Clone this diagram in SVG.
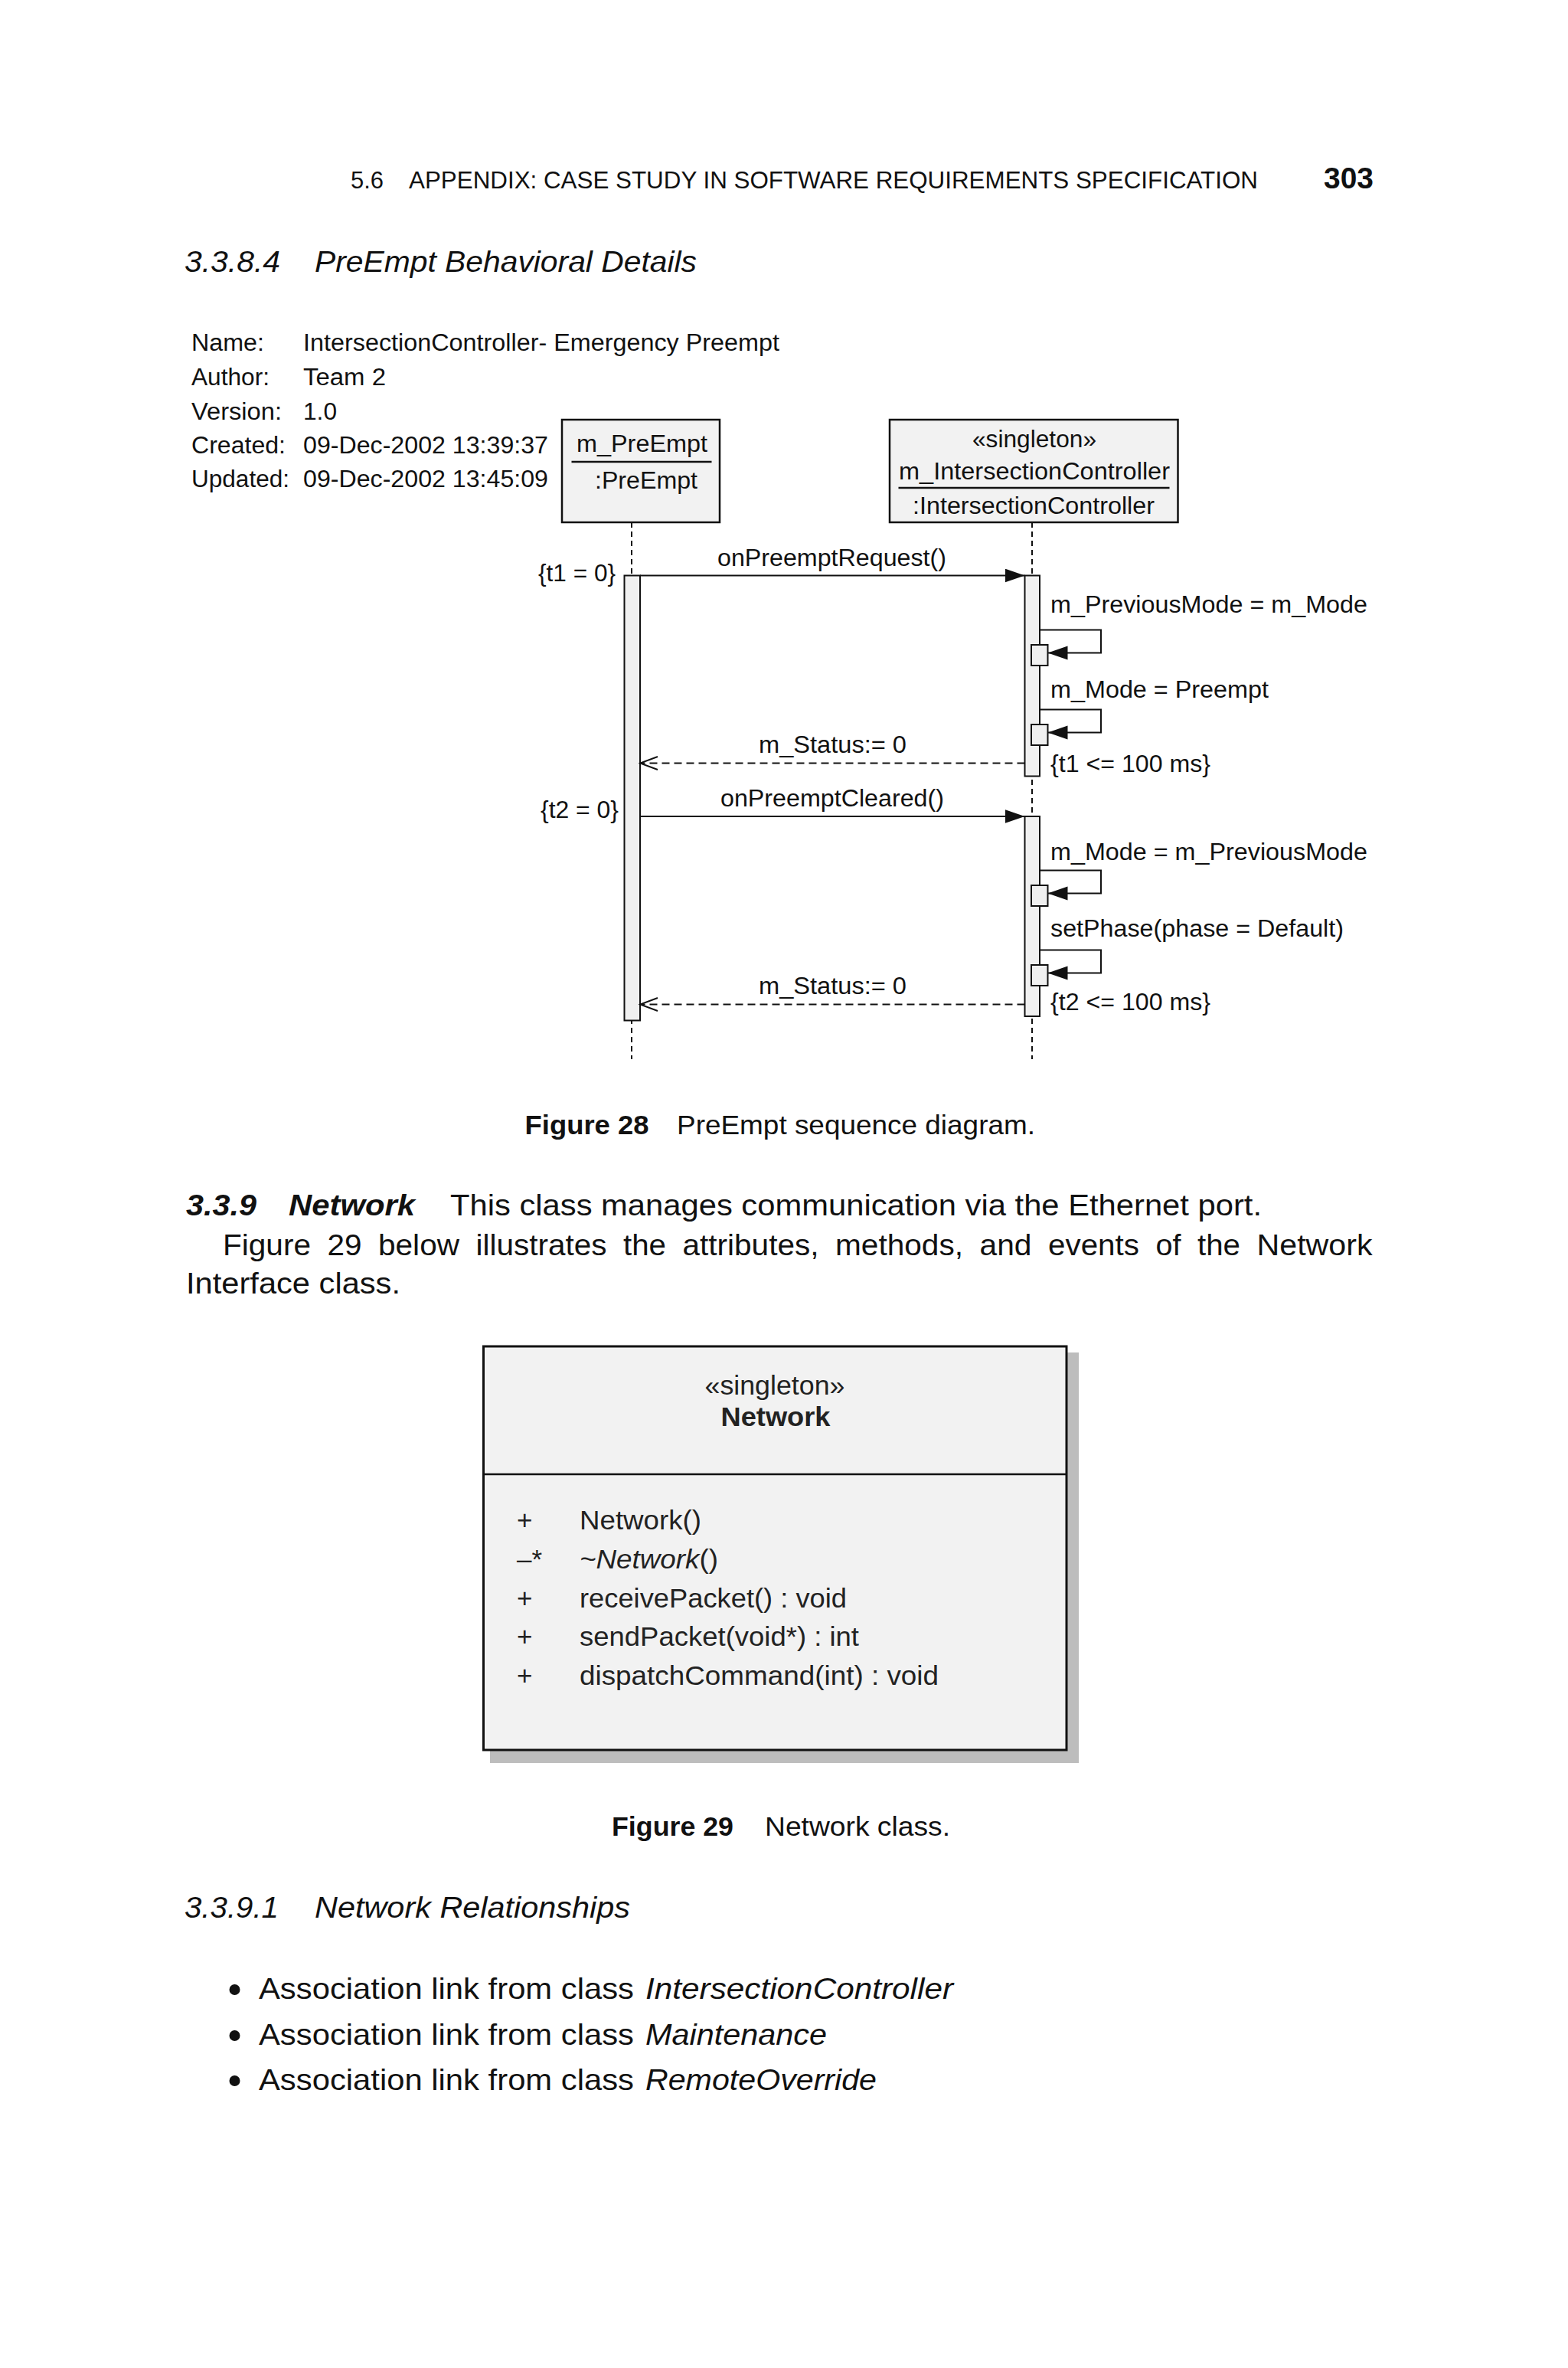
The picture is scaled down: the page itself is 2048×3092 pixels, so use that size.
<svg xmlns="http://www.w3.org/2000/svg" width="2048" height="3092" viewBox="0 0 2048 3092">
<style>
text{font-family:"Liberation Sans",Arial,Helvetica,sans-serif;fill:#111}
.hd{font-size:31px}
.pg{font-size:39px;font-weight:bold}
.h{font-size:39px;font-style:italic}
.b{font-size:39px}
.bi{font-weight:bold;font-style:italic}
.bo{font-weight:bold}
.i{font-style:italic}
.m{font-size:31px}
.d{font-size:31px}
.cap{font-size:35px}
.cb{font-size:35px;fill:#222}
.box{fill:#f2f2f2;stroke:#111;stroke-width:2.5}
.act{fill:#f0f0f0;stroke:#111;stroke-width:2}
.life{stroke:#111;stroke-width:2;stroke-dasharray:7 5;fill:none}
.msg{stroke:#111;stroke-width:2;fill:none}
.ret{stroke:#111;stroke-width:2;fill:none;stroke-dasharray:10 6}
.ul{stroke:#111;stroke-width:2.5}
</style>
<defs>
<marker id="fa" markerUnits="userSpaceOnUse" markerWidth="27" markerHeight="19" refX="26" refY="9" orient="auto">
<path d="M0,0 L26,9 L0,18 Z" fill="#111" stroke="none"/>
</marker>
<marker id="oa" markerUnits="userSpaceOnUse" markerWidth="26" markerHeight="20" refX="24" refY="9.5" orient="auto">
<path d="M1,1 L24,9.5 L1,18" fill="none" stroke="#111" stroke-width="2" stroke-dasharray="none"/>
</marker>
</defs>

<g id="page-header">
<text class="hd" x="458" y="246">5.6</text>
<text class="hd" x="534" y="246" textLength="1109" lengthAdjust="spacingAndGlyphs">APPENDIX: CASE STUDY IN SOFTWARE REQUIREMENTS SPECIFICATION</text>
<text class="pg" x="1729" y="246" textLength="65" lengthAdjust="spacingAndGlyphs">303</text>
</g>

<g id="heading-3384">
<text class="h" x="241" y="355" textLength="125" lengthAdjust="spacingAndGlyphs">3.3.8.4</text>
<text class="h" x="411" y="355" textLength="499" lengthAdjust="spacingAndGlyphs">PreEmpt Behavioral Details</text>
</g>

<g id="metadata">
<text class="m" x="250" y="458" textLength="95" lengthAdjust="spacingAndGlyphs">Name:</text>
<text class="m" x="396" y="458" textLength="622" lengthAdjust="spacingAndGlyphs">IntersectionController- Emergency Preempt</text>
<text class="m" x="250" y="503" textLength="102" lengthAdjust="spacingAndGlyphs">Author:</text>
<text class="m" x="396" y="503" textLength="108" lengthAdjust="spacingAndGlyphs">Team 2</text>
<text class="m" x="250" y="548" textLength="118" lengthAdjust="spacingAndGlyphs">Version:</text>
<text class="m" x="396" y="548" textLength="44" lengthAdjust="spacingAndGlyphs">1.0</text>
<text class="m" x="250" y="592" textLength="123" lengthAdjust="spacingAndGlyphs">Created:</text>
<text class="m" x="396" y="592" textLength="320" lengthAdjust="spacingAndGlyphs">09-Dec-2002 13:39:37</text>
<text class="m" x="250" y="636" textLength="128" lengthAdjust="spacingAndGlyphs">Updated:</text>
<text class="m" x="396" y="636" textLength="320" lengthAdjust="spacingAndGlyphs">09-Dec-2002 13:45:09</text>
</g>

<g id="lifelines">
<path class="life" d="M825,682 V1383"/>
<path class="life" d="M1348,682 V1383"/>
</g>

<g id="node-preempt">
<rect class="box" x="734" y="548" width="206" height="134"/>
<text class="d" x="753" y="590" textLength="171" lengthAdjust="spacingAndGlyphs">m_PreEmpt</text>
<line class="ul" x1="746.5" y1="603" x2="929.5" y2="603"/>
<text class="d" x="777" y="638" textLength="134" lengthAdjust="spacingAndGlyphs">:PreEmpt</text>
</g>

<g id="node-intersectioncontroller">
<rect class="box" x="1162" y="548" width="376.5" height="134"/>
<text class="d" x="1270" y="584" textLength="162" lengthAdjust="spacingAndGlyphs">«singleton»</text>
<text class="d" x="1174" y="626" textLength="354" lengthAdjust="spacingAndGlyphs">m_IntersectionController</text>
<line class="ul" x1="1173.5" y1="637" x2="1527.5" y2="637"/>
<text class="d" x="1192" y="671" textLength="316" lengthAdjust="spacingAndGlyphs">:IntersectionController</text>
</g>

<g id="activations">
<rect class="act" x="815.5" y="751.5" width="20.5" height="581"/>
<rect class="act" x="1338.5" y="751.5" width="19.5" height="262"/>
<rect class="act" x="1338.5" y="1066" width="19.5" height="261"/>
<rect class="act" x="1347" y="842" width="21.5" height="27"/>
<rect class="act" x="1347" y="946" width="21.5" height="27"/>
<rect class="act" x="1347" y="1156" width="21.5" height="27"/>
<rect class="act" x="1347" y="1260" width="21.5" height="27"/>
</g>

<g id="connectors">
<path class="msg" d="M836,751.5 H1338.5" marker-end="url(#fa)"/>
<path class="msg" d="M1358,822.5 H1438 V852.5 H1368.5" marker-end="url(#fa)"/>
<path class="msg" d="M1358,926.5 H1438 V956.5 H1368.5" marker-end="url(#fa)"/>
<path class="ret" d="M1338.5,996.5 H836" marker-end="url(#oa)"/>
<path class="msg" d="M836,1066 H1338.5" marker-end="url(#fa)"/>
<path class="msg" d="M1358,1136.5 H1438 V1166.5 H1368.5" marker-end="url(#fa)"/>
<path class="msg" d="M1358,1240.5 H1438 V1270.5 H1368.5" marker-end="url(#fa)"/>
<path class="ret" d="M1338.5,1311.5 H836" marker-end="url(#oa)"/>
</g>

<g id="message-labels">
<text class="d" x="703" y="759" textLength="101" lengthAdjust="spacingAndGlyphs">{t1 = 0}</text>
<text class="d" x="937" y="739" textLength="299" lengthAdjust="spacingAndGlyphs">onPreemptRequest()</text>
<text class="d" x="1372" y="800" textLength="414" lengthAdjust="spacingAndGlyphs">m_PreviousMode = m_Mode</text>
<text class="d" x="1372" y="911" textLength="285" lengthAdjust="spacingAndGlyphs">m_Mode = Preempt</text>
<text class="d" x="991" y="983" textLength="193" lengthAdjust="spacingAndGlyphs">m_Status:= 0</text>
<text class="d" x="1372" y="1008" textLength="209" lengthAdjust="spacingAndGlyphs">{t1 &lt;= 100 ms}</text>
<text class="d" x="941" y="1053" textLength="292" lengthAdjust="spacingAndGlyphs">onPreemptCleared()</text>
<text class="d" x="706" y="1068" textLength="102" lengthAdjust="spacingAndGlyphs">{t2 = 0}</text>
<text class="d" x="1372" y="1123" textLength="414" lengthAdjust="spacingAndGlyphs">m_Mode = m_PreviousMode</text>
<text class="d" x="1372" y="1223" textLength="383" lengthAdjust="spacingAndGlyphs">setPhase(phase = Default)</text>
<text class="d" x="991" y="1298" textLength="193" lengthAdjust="spacingAndGlyphs">m_Status:= 0</text>
<text class="d" x="1372" y="1319" textLength="209" lengthAdjust="spacingAndGlyphs">{t2 &lt;= 100 ms}</text>
</g>

<g id="caption-28">
<text class="cap bo" x="685.5" y="1481" textLength="162" lengthAdjust="spacingAndGlyphs">Figure 28</text>
<text class="cap" x="884" y="1481" textLength="468" lengthAdjust="spacingAndGlyphs">PreEmpt sequence diagram.</text>
</g>

<g id="section-339">
<text class="b bi" x="243" y="1587" textLength="92" lengthAdjust="spacingAndGlyphs">3.3.9</text>
<text class="b bi" x="377" y="1587" textLength="165" lengthAdjust="spacingAndGlyphs">Network</text>
<text class="b" x="588" y="1587" textLength="1060" lengthAdjust="spacingAndGlyphs">This class manages communication via the Ethernet port.</text>
<text class="b" y="1638.5">
<tspan x="291" textLength="115" lengthAdjust="spacingAndGlyphs">Figure</tspan>
<tspan x="427.5" textLength="45" lengthAdjust="spacingAndGlyphs">29</tspan>
<tspan x="494" textLength="106" lengthAdjust="spacingAndGlyphs">below</tspan>
<tspan x="621.5" textLength="171" lengthAdjust="spacingAndGlyphs">illustrates</tspan>
<tspan x="814" textLength="56" lengthAdjust="spacingAndGlyphs">the</tspan>
<tspan x="891.5" textLength="178" lengthAdjust="spacingAndGlyphs">attributes,</tspan>
<tspan x="1091" textLength="167" lengthAdjust="spacingAndGlyphs">methods,</tspan>
<tspan x="1279.5" textLength="68" lengthAdjust="spacingAndGlyphs">and</tspan>
<tspan x="1369" textLength="119" lengthAdjust="spacingAndGlyphs">events</tspan>
<tspan x="1509.5" textLength="33" lengthAdjust="spacingAndGlyphs">of</tspan>
<tspan x="1564" textLength="56" lengthAdjust="spacingAndGlyphs">the</tspan>
<tspan x="1641.5" textLength="151" lengthAdjust="spacingAndGlyphs">Network</tspan>
</text>
<text class="b" x="243" y="1688.5" textLength="280" lengthAdjust="spacingAndGlyphs">Interface class.</text>
</g>

<g id="class-network">
<rect x="640" y="1766" width="769" height="536" fill="#bdbdbd"/>
<rect x="631.5" y="1758" width="761.5" height="527" fill="#f2f2f2" stroke="#111" stroke-width="3"/>
<text class="cb" x="920.5" y="1821" textLength="183" lengthAdjust="spacingAndGlyphs">«singleton»</text>
<text class="cb bo" x="941.5" y="1862" textLength="143" lengthAdjust="spacingAndGlyphs">Network</text>
<line x1="631.5" y1="1925" x2="1393" y2="1925" stroke="#111" stroke-width="2.5"/>
<text class="cb" x="675" y="1997">+</text>
<text class="cb" x="757" y="1997" textLength="159" lengthAdjust="spacingAndGlyphs">Network()</text>
<text class="cb" x="675" y="2048">–*</text>
<text class="cb" x="757" y="2048" textLength="181" lengthAdjust="spacingAndGlyphs"><tspan class="i">~Network</tspan>()</text>
<text class="cb" x="675" y="2098.5">+</text>
<text class="cb" x="757" y="2098.5" textLength="349" lengthAdjust="spacingAndGlyphs">receivePacket() : void</text>
<text class="cb" x="675" y="2149">+</text>
<text class="cb" x="757" y="2149" textLength="365" lengthAdjust="spacingAndGlyphs">sendPacket(void*) : int</text>
<text class="cb" x="675" y="2200">+</text>
<text class="cb" x="757" y="2200" textLength="469" lengthAdjust="spacingAndGlyphs">dispatchCommand(int) : void</text>
</g>

<g id="caption-29">
<text class="cap bo" x="799" y="2397" textLength="159" lengthAdjust="spacingAndGlyphs">Figure 29</text>
<text class="cap" x="999" y="2397" textLength="242" lengthAdjust="spacingAndGlyphs">Network class.</text>
</g>

<g id="heading-3391">
<text class="h" x="241" y="2504" textLength="123" lengthAdjust="spacingAndGlyphs">3.3.9.1</text>
<text class="h" x="411" y="2504" textLength="412" lengthAdjust="spacingAndGlyphs">Network Relationships</text>
</g>

<g id="relationships">
<circle cx="306.5" cy="2598" r="7" fill="#111"/>
<text class="b" x="338" y="2610" textLength="490" lengthAdjust="spacingAndGlyphs">Association link from class</text>
<text class="b i" x="843" y="2610" textLength="402" lengthAdjust="spacingAndGlyphs">IntersectionController</text>
<circle cx="306.5" cy="2658" r="7" fill="#111"/>
<text class="b" x="338" y="2670" textLength="490" lengthAdjust="spacingAndGlyphs">Association link from class</text>
<text class="b i" x="843" y="2670" textLength="237" lengthAdjust="spacingAndGlyphs">Maintenance</text>
<circle cx="306.5" cy="2717" r="7" fill="#111"/>
<text class="b" x="338" y="2729" textLength="490" lengthAdjust="spacingAndGlyphs">Association link from class</text>
<text class="b i" x="843" y="2729" textLength="302" lengthAdjust="spacingAndGlyphs">RemoteOverride</text>
</g>
</svg>
